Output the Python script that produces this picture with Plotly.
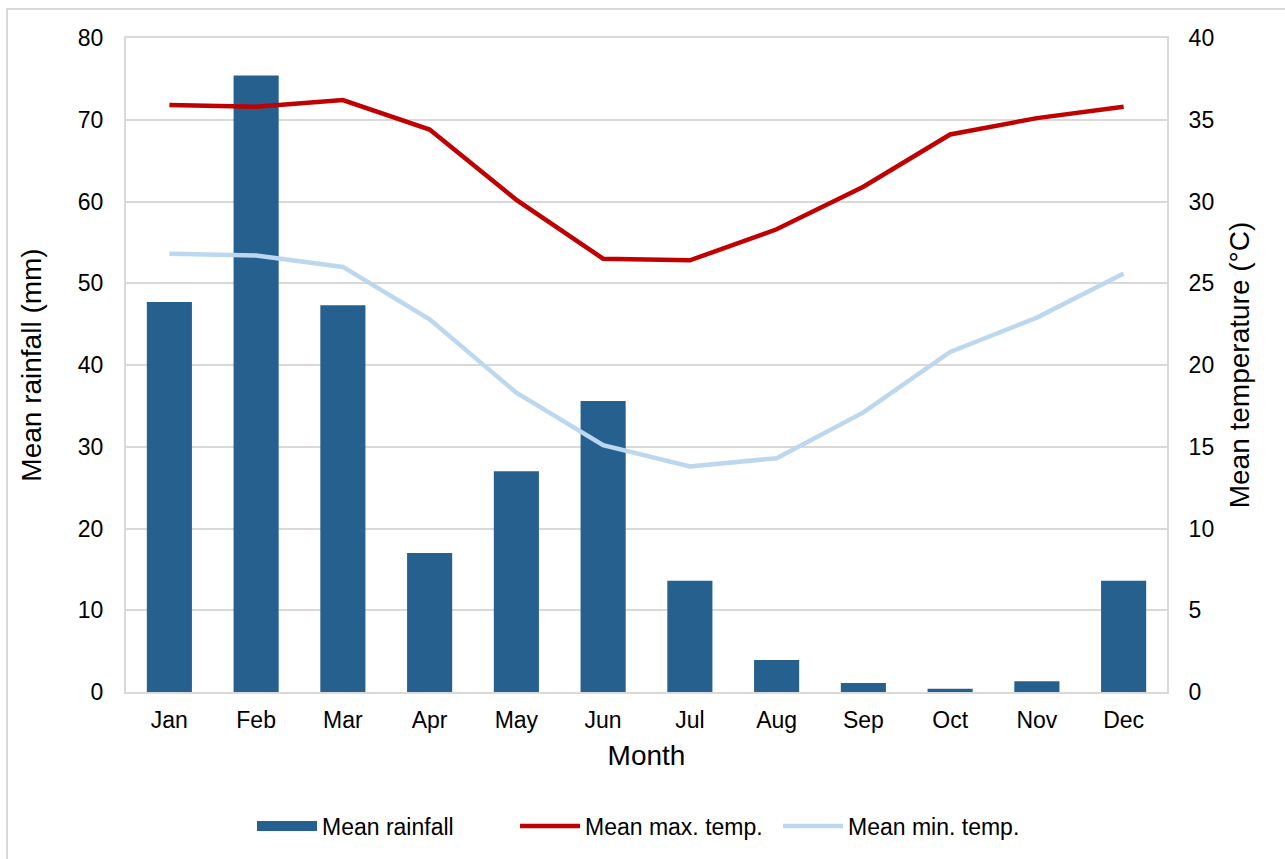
import plotly.graph_objects as go

months = ["Jan", "Feb", "Mar", "Apr", "May", "Jun", "Jul", "Aug", "Sep", "Oct", "Nov", "Dec"]
rainfall = [47.7, 75.4, 47.3, 17.0, 27.0, 35.6, 13.6, 3.9, 1.1, 0.4, 1.3, 13.6]
max_temp = [35.9, 35.8, 36.2, 34.4, 30.1, 26.5, 26.4, 28.3, 30.9, 34.1, 35.1, 35.8]
min_temp = [26.8, 26.7, 26.0, 22.8, 18.3, 15.1, 13.8, 14.3, 17.1, 20.8, 22.9, 25.6]

FONT = "Liberation Sans, Arial, sans-serif"
GRID = "#d9d9d9"
BAR = "#26608F"

fig = go.Figure()
fig.add_trace(go.Bar(x=months, y=rainfall, name="Mean rainfall",
                     marker=dict(color=BAR, line=dict(width=0)),
                     width=0.52, yaxis="y", showlegend=False))
# legend entry for the bars drawn as a wide swatch
fig.add_trace(go.Scatter(x=[None], y=[None], name="Mean rainfall", mode="lines",
                         line=dict(color=BAR, width=13), yaxis="y"))
fig.add_trace(go.Scatter(x=months, y=max_temp, name="Mean max. temp.",
                         mode="lines", line=dict(color="#C00000", width=4.5),
                         yaxis="y2"))
fig.add_trace(go.Scatter(x=months, y=min_temp, name="Mean min. temp.",
                         mode="lines", line=dict(color="#BDD7EE", width=4.5),
                         yaxis="y2"))

fig.update_layout(
    width=1285, height=859,
    margin=dict(l=126, r=118, t=38, b=167),
    paper_bgcolor="white", plot_bgcolor="white",
    font=dict(family=FONT, size=23, color="#000000"),
    showlegend=True,
    legend=dict(orientation="h", x=0.5, xanchor="center", y=-0.205, yanchor="middle",
                font=dict(size=23), itemwidth=60, entrywidth=188, tracegroupgap=0),
    xaxis=dict(title=dict(text="Month", standoff=14), showgrid=False,
               showline=True, linecolor=GRID, linewidth=2, mirror=True,
               ticks="", tickfont=dict(size=23), ticklabelstandoff=6),
    yaxis=dict(title=dict(text="Mean rainfall (mm)", standoff=28),
               range=[0, 80], dtick=10, showgrid=True, gridcolor=GRID, gridwidth=2,
               showline=True, linecolor=GRID, linewidth=2, ticks="",
               zeroline=False, tickfont=dict(size=23), ticklabelstandoff=16),
    yaxis2=dict(title=dict(text="Mean temperature (°C)", standoff=16),
                range=[0, 40], dtick=5, overlaying="y", side="right",
                showgrid=False, showline=True, linecolor=GRID, linewidth=2,
                ticks="", zeroline=False, tickfont=dict(size=23), ticklabelstandoff=15),
)

# chart frame
fig.add_shape(type="rect", xref="paper", yref="paper",
              x0=-0.1143, x1=1.118, y0=-0.27, y1=1.0443,
              line=dict(color="#d9d9d9", width=2), fillcolor="rgba(0,0,0,0)", layer="below")

fig.write_html("out.html")
